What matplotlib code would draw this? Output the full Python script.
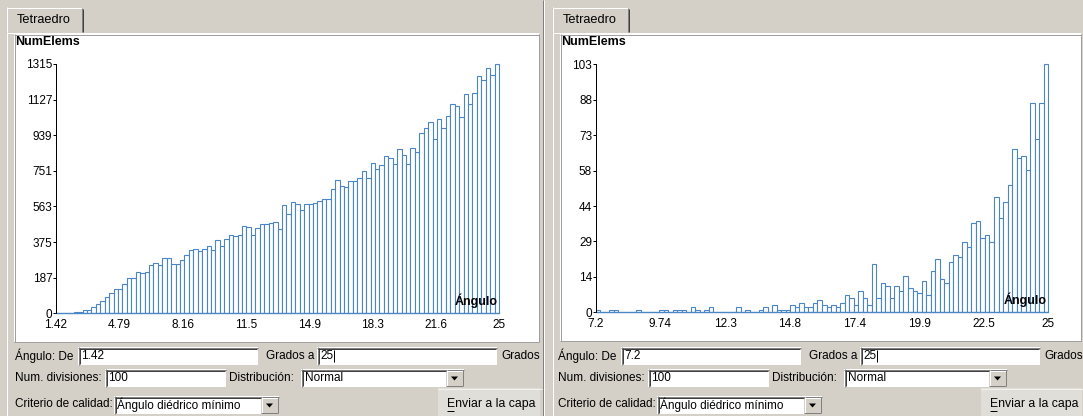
import numpy as np
import matplotlib.pyplot as plt
from matplotlib.patches import Rectangle, Polygon

plt.rcParams['font.family'] = ['Liberation Sans', 'DejaVu Sans']

W, H = 1083, 416
GRAY = "#D4D0C8"
BAR_EDGE = "#4A86C6"
FS = 8.5

# histogram counts (100 divisions each)
LEFT_COUNTS = [
    3, 3, 3, 4, 9, 9, 18, 18, 35, 47,
    65, 84, 109, 127, 127, 156, 186, 186, 218, 213,
    216, 253, 267, 253, 290, 290, 258, 258, 281, 308,
    332, 339, 327, 338, 357, 332, 387, 357, 394, 411,
    406, 411, 461, 454, 411, 448, 473, 469, 475, 483,
    443, 571, 524, 587, 577, 547, 577, 577, 582, 590,
    605, 605, 654, 703, 673, 668, 696, 696, 716, 752,
    716, 795, 759, 782, 830, 817, 788, 868, 835, 788,
    872, 853, 953, 976, 1007, 921, 1025, 976, 1043, 1106,
    1092, 1037, 1155, 1102, 1160, 1252, 1232, 1292, 1259, 1315,
]
RIGHT_COUNTS = [
    1, 0, 0, 1, 1, 0, 0, 0, 0, 1,
    0, 0, 0, 0, 1, 1, 0, 1, 1, 1,
    0, 2, 1, 0, 1, 2, 0, 0, 0, 0,
    0, 2, 0, 1, 0, 0, 1, 2, 0, 3,
    1, 1, 1, 3, 2, 4, 2, 2, 4, 5,
    3, 2, 3, 2, 4, 7, 6, 3, 9, 6,
    3, 20, 6, 12, 11, 6, 11, 9, 15, 10,
    9, 8, 13, 7, 17, 22, 14, 12, 21, 24,
    23, 29, 27, 37, 38, 31, 32, 29, 48, 39,
    46, 53, 68, 64, 65, 59, 87, 72, 87, 103,
]
LEFT_RANGE = (1.42, 25.0)
RIGHT_RANGE = (7.2, 25.0)
LEFT_XLABELS = ["1.42", "4.79", "8.16", "11.5", "14.9", "18.3", "21.6", "25"]
RIGHT_XLABELS = ["7.2", "9.74", "12.3", "14.8", "17.4", "19.9", "22.5", "25"]
LEFT_YLABELS = ["0", "187", "375", "563", "751", "939", "1127", "1315"]
RIGHT_YLABELS = ["0", "14", "29", "44", "58", "73", "88", "103"]

TAB_TITLE = "Tetraedro"
Y_TITLE = "NumElems"
X_TITLE = "Ángulo"
LEFT_DE = "1.42"
RIGHT_DE = "7.2"
GRADOS_A = "25"
NUM_DIV = "100"
DISTRIB = "Normal"
CRITERIO = "Ángulo diédrico mínimo"

PANELS = [
    dict(off=0, white=(14, 539, 34, 342), axx=(56, 499), axy=(64, 313.3), tab=(7, 82), right=541,
         counts=LEFT_COUNTS, rng=LEFT_RANGE, xl=LEFT_XLABELS, yl=LEFT_YLABELS, de=LEFT_DE),
    dict(off=543, white=(560, 1081, 34, 341), axx=(595.7, 1048.3), axy=(64.3, 312.3), tab=(553, 628), right=1083,
         counts=RIGHT_COUNTS, rng=RIGHT_RANGE, xl=RIGHT_XLABELS, yl=RIGHT_YLABELS, de=RIGHT_DE),
]

PX = 0.72  # one pixel in points at dpi 100


def line(bg, xs, ys, color, lw=1.0):
    bg.plot(xs, ys, color=color, linewidth=lw * PX, solid_capstyle="butt")


def sunken_box(bg, x0, x1, y0, y1):
    bg.add_patch(Rectangle((x0, y0), x1 - x0, y1 - y0, facecolor="white", edgecolor="none"))
    line(bg, [x0, x1], [y0 + 0.5, y0 + 0.5], "#808080")
    line(bg, [x0 + 0.5, x0 + 0.5], [y0, y1], "#808080")
    line(bg, [x0 + 1, x1 - 1], [y0 + 1.5, y0 + 1.5], "#404040")
    line(bg, [x0 + 1.5, x0 + 1.5], [y0 + 1, y1 - 1], "#404040")


def arrow_button(bg, x0, x1, y0, y1):
    bg.add_patch(Rectangle((x0, y0), x1 - x0, y1 - y0, facecolor=GRAY, edgecolor="none"))
    line(bg, [x0, x1], [y0 + 0.5, y0 + 0.5], "white")
    line(bg, [x0 + 0.5, x0 + 0.5], [y0, y1], "white")
    line(bg, [x0, x1], [y1 - 0.5, y1 - 0.5], "#808080")
    line(bg, [x1 - 0.5, x1 - 0.5], [y0, y1], "#808080")
    cx, cy = (x0 + x1) / 2, (y0 + y1) / 2
    bg.add_patch(Polygon([(cx - 3.5, cy - 1.5), (cx + 3.5, cy - 1.5), (cx, cy + 2.5)],
                         closed=True, facecolor="black", edgecolor="none"))


def draw_panel(fig, bg, p):
    o = p["off"]
    t0, t1 = p["tab"]
    wx0, wx1, wy0, wy1 = p["white"]

    # tab page frame and tab
    line(bg, [t0, p["right"] - 2], [32.5, 32.5], "white")
    line(bg, [t0 - 0.5, t0 - 0.5], [32, H], "white")
    line(bg, [t0, t0], [7, 32], "white")
    line(bg, [t0, t1], [7.5, 7.5], "white")
    line(bg, [t1 - 0.5, t1 - 0.5], [8, 32], "#808080")
    line(bg, [t1 + 0.5, t1 + 0.5], [9, 32], "#404040")
    bg.text(t0 + 10, 20, TAB_TITLE, fontsize=9.2, ha="left", va="center")

    # white chart area
    bg.add_patch(Rectangle((wx0, wy0), wx1 - wx0, wy1 - wy0, facecolor="white", edgecolor="none"))
    line(bg, [wx0, wx1], [wy0 + 0.5, wy0 + 0.5], "#A0A0A0")
    line(bg, [wx0 + 0.5, wx0 + 0.5], [wy0, wy1], "#A0A0A0")
    line(bg, [wx0, wx1], [wy1 - 0.5, wy1 - 0.5], "#A0A0A0")
    line(bg, [wx1 - 0.5, wx1 - 0.5], [wy0, wy1], "#A0A0A0")
    bg.text(wx0 + 1, 42, Y_TITLE, fontsize=9, fontweight="bold", ha="left", va="center")

    # histogram
    ax0, ax1 = p["axx"]
    ay0, ay1 = p["axy"]
    ax = fig.add_axes([ax0 / W, 1 - ay1 / H, (ax1 - ax0) / W, (ay1 - ay0) / H])
    ax.patch.set_visible(False)
    lo, hi = p["rng"]
    counts = np.array(p["counts"], dtype=float)
    edges = np.linspace(lo, hi, len(counts) + 1)
    ax.bar(edges[:-1], counts, width=np.diff(edges), align="edge", facecolor="white",
           edgecolor=BAR_EDGE, linewidth=1.1 * PX, clip_on=False, zorder=2)
    ax.axhline(0, color=BAR_EDGE, linewidth=1.3 * PX, clip_on=False, zorder=2)
    ymax = counts.max()
    ax.set_xlim(lo, hi)
    ax.set_ylim(0, ymax)
    ax.set_xticks(np.linspace(lo, hi, 8))
    ax.set_xticklabels(p["xl"])
    ax.set_yticks(np.linspace(0, ymax, 8))
    ax.set_yticklabels(p["yl"])
    for side in ("top", "right", "bottom"):
        ax.spines[side].set_visible(False)
    ax.spines["left"].set_linewidth(PX)
    ax.spines["left"].set_color("black")
    ax.spines["left"].set_zorder(3)
    ax.tick_params(axis="y", direction="out", length=3 * PX, width=PX, pad=0.5, labelsize=FS)
    ax.tick_params(axis="x", length=0, pad=4.4, labelsize=FS)
    ax.text(0.997, 0.022, X_TITLE, transform=ax.transAxes, ha="right", va="bottom",
            fontsize=9, fontweight="bold", zorder=3)

    # form rows
    r1, r2, r3 = 356, 378, 404
    bg.text(o + 15, r1, "Ángulo: De", fontsize=FS, va="center")
    sunken_box(bg, o + 78, o + 258, 347, 365)
    bg.text(o + 81, r1, p["de"], fontsize=FS, va="center")
    bg.text(o + 266, r1, "Grados a", fontsize=FS, va="center")
    sunken_box(bg, o + 317, o + 497, 347, 365)
    bg.text(o + 320, r1, GRADOS_A, fontsize=FS, va="center")
    line(bg, [o + 334, o + 334], [350, 362], "black")
    bg.text(o + 540, r1, "Grados", fontsize=FS, va="center", ha="right")

    bg.text(o + 15, r2, "Num. divisiones:", fontsize=FS, va="center")
    sunken_box(bg, o + 105, o + 226, 369, 387)
    bg.text(o + 108, r2, NUM_DIV, fontsize=FS, va="center")
    bg.text(o + 229, r2, "Distribución:", fontsize=FS, va="center")
    sunken_box(bg, o + 301, o + 464, 369, 387)
    bg.text(o + 305, r2, DISTRIB, fontsize=FS, va="center")
    arrow_button(bg, o + 446, o + 463, 370, 386)

    bg.text(o + 15, r3, "Criterio de calidad:", fontsize=FS, va="center")
    sunken_box(bg, o + 114, o + 279, 396, 414)
    bg.text(o + 117, r3 + 1, CRITERIO, fontsize=FS, va="center")
    arrow_button(bg, o + 261, o + 278, 397, 413)

    bg.add_patch(Rectangle((o + 438, 388), min(107, p["right"] - 1 - (o + 438)), 28,
                           facecolor="#E0DED8", edgecolor="none"))
    line(bg, [o + 438, o + 545], [388.5, 388.5], "#F2F1EE")
    bg.text(o + 447, r3, "Enviar a la capa", fontsize=8.8, va="center")
    line(bg, [o + 447, o + 454], [410.5, 410.5], "black")


def main() -> None:
    fig = plt.figure(figsize=(W / 100, H / 100), dpi=100, facecolor=GRAY)
    bg = fig.add_axes([0, 0, 1, 1])
    bg.set_xlim(0, W)
    bg.set_ylim(H, 0)
    bg.axis("off")
    bg.add_patch(Rectangle((0, 0), W, H, facecolor=GRAY, edgecolor="none"))
    for p in PANELS:
        draw_panel(fig, bg, p)
    # window border between the two screenshots
    line(bg, [542.5, 542.5], [0, H], "#808080")
    line(bg, [543.5, 543.5], [0, H], "white")
    fig.savefig("out.png", dpi=100, facecolor=GRAY)


if __name__ == "__main__":
    main()
